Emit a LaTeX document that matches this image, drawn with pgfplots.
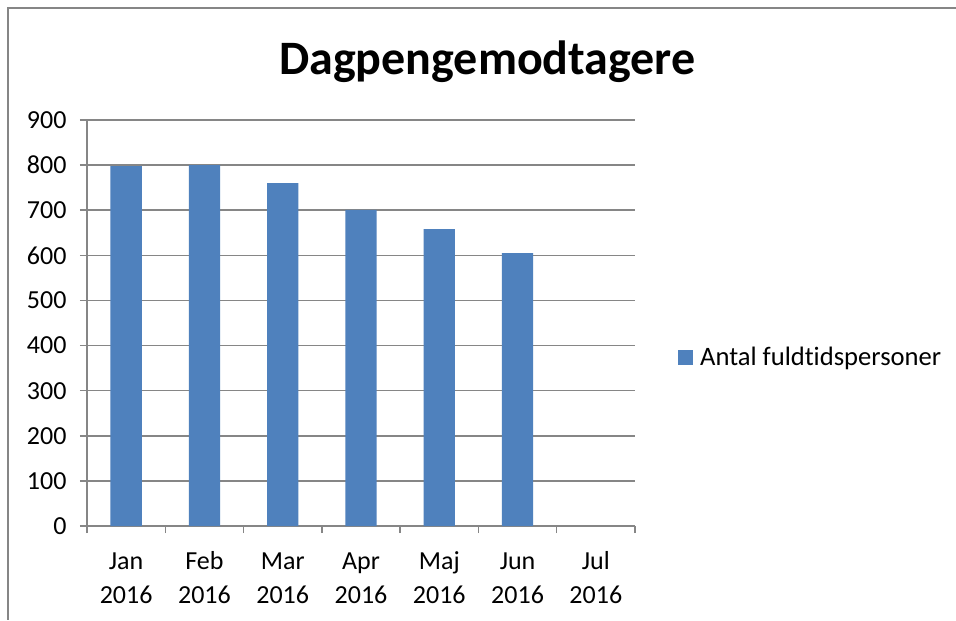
\documentclass[border=0pt]{standalone}
\usepackage{fontspec}
\setmainfont{Carlito}[Ligatures=NoCommon]
\usepackage{pgfplots}
\pgfplotsset{compat=1.18}
\definecolor{barblue}{HTML}{4F81BD}
\definecolor{gridgray}{HTML}{868686}
\begin{document}
\begin{tikzpicture}
% page: 956x620 px at 0.5pt per px
\path[use as bounding box, fill=white] (0,0) rectangle (478pt,-310pt);
\draw[gridgray, line width=0.75pt] (478pt,-4pt) -- (4pt,-4pt) -- (4pt,-310pt);
\node[font=\fontsize{24}{28}\selectfont\bfseries] at (243.7pt,-31pt) {Dagpengemodtagere};
\begin{axis}[
  at={(43.5pt,-263pt)}, anchor=south west,
  scale only axis, width=274pt, height=203pt,
  xmin=-0.5, xmax=6.5, ymin=0, ymax=900,
  axis x line*=bottom, axis y line*=left,
  axis line style={gridgray, line width=0.75pt},
  ytick={0,100,...,900},
  ymajorgrids, grid style={gridgray, line width=0.75pt},
  xtick={0,...,6},
  xticklabels={{\strut Jan\\\strut 2016}, {\strut Feb\\\strut 2016}, {\strut Mar\\\strut 2016},
    {\strut Apr\\\strut 2016}, {\strut Maj\\\strut 2016}, {\strut Jun\\\strut 2016}, {\strut Jul\\\strut 2016}},
  major x tick style={draw=none},
  minor xtick={-0.5,0.5,...,6.5},
  tick align=outside, major tick length=3.5pt, minor tick length=3.5pt,
  every tick/.style={gridgray, line width=0.75pt},
  minor x tick style={gridgray, line width=0.75pt},
  yticklabel style={font=\fontsize{13}{16}\selectfont, xshift=-3.2pt},
  xticklabel style={font=\fontsize{13}{17}\selectfont, align=center, yshift=-2.8pt},
  /pgf/number format/assume math mode=true,
  legend style={at={(1.078,0.414)}, anchor=west, draw=none, fill=none,
    font=\fontsize{13.3}{15}\selectfont, inner sep=0pt},
  legend image code/.code={\fill[barblue] (0pt,-3.75pt) rectangle (7.5pt,3.75pt);
    \path (9pt,0pt);},
]
\addplot[ybar, bar width=0.4, fill=barblue, draw=none]
  coordinates {(0,798) (1,800) (2,760) (3,701) (4,658) (5,605)};
\addlegendentry{Antal fuldtidspersoner}
\end{axis}
\end{tikzpicture}
\end{document}
